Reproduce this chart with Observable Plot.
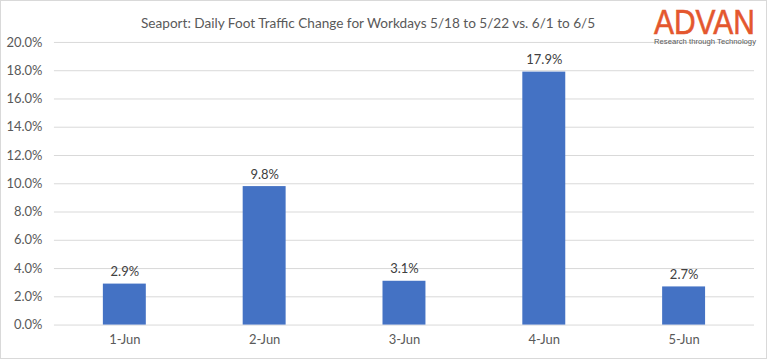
<!DOCTYPE html>
<html>
<head>
<meta charset="utf-8">
<script src="https://cdn.jsdelivr.net/npm/d3@7"></script>
<script src="https://cdn.jsdelivr.net/npm/@observablehq/plot@0.6"></script>
<style>
  body { margin: 0; background: #fff; }
  #wrap { position: relative; width: 767px; height: 359px; box-sizing: border-box; border: 1px solid #d9d9d9; overflow: hidden; font-family: Lato, "Open Sans", sans-serif; }
  #chart { position: absolute; left: -1px; top: -1px; }
  #title { position: absolute; left: 140px; top: 14px; font-size: 13.6px; color: #595959; white-space: nowrap; }
  #logo { position: absolute; left: 649px; top: 0px; }
</style>
</head>
<body>
<div id="wrap">
  <div id="chart"></div>
  <div id="title">Seaport: Daily Foot Traffic Change for Workdays 5/18 to 5/22 vs. 6/1 to 6/5</div>
  <svg id="logo" width="114" height="48">
    <text x="4" y="33" textLength="101" lengthAdjust="spacingAndGlyphs" font-family="Liberation Sans, Arial, sans-serif" font-size="35" fill="#E4572E" stroke="#E4572E" stroke-width="0.6">ADVAN</text>
    <text x="4" y="43" textLength="102" lengthAdjust="spacingAndGlyphs" font-family="Liberation Sans, Arial, sans-serif" font-size="8" fill="#595959">Research through Technology</text>
  </svg>
</div>
<script>
const days = ["1-Jun", "2-Jun", "3-Jun", "4-Jun", "5-Jun"];
const changes = [2.9, 9.8, 3.1, 17.9, 2.7];
const yTicks = [0, 2, 4, 6, 8, 10, 12, 14, 16, 18, 20];

const data = days.map((d, i) => ({day: d, value: changes[i]}));
const fmt = v => v.toFixed(1) + "%";

const chart = Plot.plot({
  width: 767,
  height: 359,
  marginTop: 42,
  marginBottom: 34,
  marginLeft: 54,
  marginRight: 12,
  style: {fontFamily: "Lato, 'Open Sans', sans-serif", color: "#595959", background: "transparent"},
  x: {domain: days, paddingInner: 0.69, paddingOuter: 0.345, label: null},
  y: {domain: [0, 20], label: null},
  marks: [
    Plot.ruleY(yTicks, {stroke: "#d9d9d9", strokeWidth: 1}),
    Plot.barY(data, {x: "day", y: "value", fill: "#4472C4"}),
    Plot.text(data, {x: "day", y: "value", text: d => fmt(d.value), dy: -8, lineAnchor: "bottom", fontSize: 13, fill: "#404040"}),
    Plot.axisY({ticks: yTicks, tickSize: 0, tickPadding: 12, tickFormat: fmt, fontSize: 13, fill: "#595959"}),
    Plot.axisX({tickSize: 0, tickPadding: 10, fontSize: 13, fill: "#595959"})
  ]
});
document.getElementById("chart").appendChild(chart);
</script>
</body>
</html>
